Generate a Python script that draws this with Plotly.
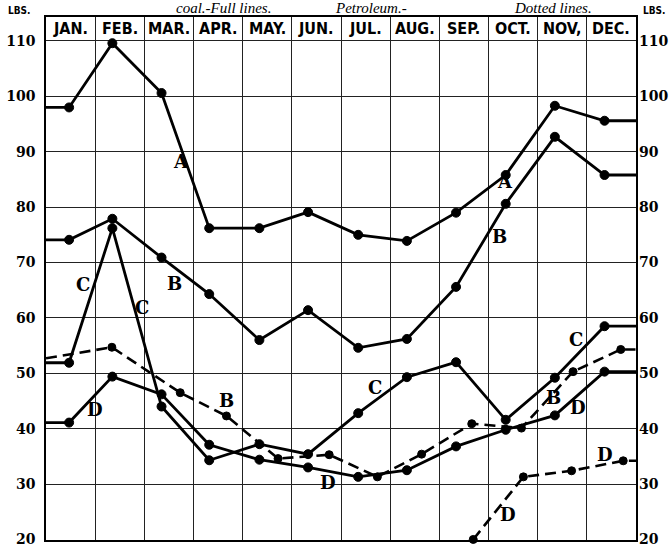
import plotly.graph_objects as go

# ---------------- data ----------------
months = ["JAN.", "FEB.", "MAR.", "APR.", "MAY.", "JUN.", "JUL.", "AUG.", "SEP.", "OCT.", "NOV,", "DEC."]
y_ticks = [20, 30, 40, 50, 60, 70, 80, 90, 100, 110]

# coal (full lines): sampling position within the year (month units) and lbs
coal_x = [0.47, 1.35, 2.35, 3.32, 4.34, 5.33, 6.35, 7.34, 8.34, 9.35, 10.35, 11.36]
coal_A = [98.0, 109.6, 100.6, 76.2, 76.2, 79.1, 75.0, 73.9, 79.0, 85.8, 98.3, 95.6]
coal_B = [74.1, 77.9, 70.9, 64.3, 56.0, 61.4, 54.6, 56.2, 65.6, 80.6, 92.7, 85.8]
coal_C = [51.9, 76.2, 44.0, 34.3, 37.2, 35.4, 42.8, 49.3, 52.0, 41.6, 49.2, 58.5]
coal_D = [41.1, 49.4, 46.2, 37.1, 34.4, 33.0, 31.3, 32.5, 36.8, 39.8, 42.4, 50.3]

# petroleum (dotted lines)
pet_B_start = 52.7
pet_B_x = [1.34, 2.73, 3.67, 4.72, 5.76, 6.74, 7.64, 8.66, 9.67, 10.72, 11.69]
pet_B = [54.7, 46.5, 42.3, 34.6, 35.3, 31.3, 35.4, 40.9, 40.1, 50.3, 54.3]
pet_D_x = [8.69, 9.71, 10.69, 11.74]
pet_D = [20.0, 31.3, 32.4, 34.2]

# curve letters (text, x, y)
letters = [("A", 2.75, 88.2), ("A", 9.33, 84.6),
           ("B", 2.62, 66.3), ("B", 9.23, 74.7), ("B", 3.68, 45.1), ("B", 10.32, 45.7),
           ("C", 0.76, 66.0), ("C", 1.96, 61.8), ("C", 6.69, 47.4), ("C", 10.78, 56.1),
           ("D", 1.0, 43.4), ("D", 5.74, 30.2), ("D", 10.83, 43.8), ("D", 11.37, 35.3),
           ("D", 9.40, 24.5)]

X0, X1 = 0, 12
Y_BOT = 19.9
Y_TOP = 114.33
HEADER_Y = 112.2

fig = go.Figure()

def add_series(xs, ys, dashed=False, start=None, extend_right=True, msize=9):
    px = list(xs)
    py = list(ys)
    sizes = [msize] * len(px)
    if start is not None:
        px = [X0] + px
        py = [start] + py
        sizes = [0] + sizes
    if extend_right:
        px = px + [X1]
        py = py + [ys[-1]]
        sizes = sizes + [0]
    fig.add_trace(go.Scatter(
        x=px, y=py, mode="lines+markers",
        line=dict(color="black", width=2.6 if dashed else 2.8,
                  dash="11px,6px" if dashed else "solid"),
        marker=dict(color="black", size=sizes, opacity=1, line=dict(width=1, color="black")),
        cliponaxis=False, hoverinfo="skip", showlegend=False))

for series in (coal_A, coal_B, coal_C, coal_D):
    add_series(coal_x, series, start=series[0])

add_series(pet_B_x, pet_B, dashed=True, start=pet_B_start, msize=8)
add_series(pet_D_x, pet_D, dashed=True, msize=8)

# invisible trace to bind the right-hand axis
fig.add_trace(go.Scatter(x=[X0, X1], y=[30, 30], yaxis="y2", mode="lines",
                         line=dict(width=0), opacity=0, hoverinfo="skip", showlegend=False))

tickfont = dict(family="DejaVu Serif, Liberation Serif, serif", size=14, color="black", weight="bold")

annotations = []
for i, m in enumerate(months):
    annotations.append(dict(x=i + 0.5, y=HEADER_Y, xref="x", yref="y", text=m, showarrow=False,
                            font=dict(family="DejaVu Sans Condensed, Liberation Sans Narrow, sans-serif",
                                      size=16, color="black", weight="bold"),
                            xanchor="center", yanchor="middle"))
for t, lx, ly in letters:
    annotations.append(dict(x=lx, y=ly, xref="x", yref="y", text=t, showarrow=False,
                            font=dict(family="DejaVu Serif, Liberation Serif, serif", size=18,
                                      color="black", weight="bold"),
                            xanchor="center", yanchor="middle"))
# units
for ax_x in (-0.045, 1.032):
    annotations.append(dict(x=ax_x, y=1.012, xref="paper", yref="paper", text="LBS.", showarrow=False,
                            font=dict(family="DejaVu Sans Condensed, DejaVu Sans, sans-serif", size=10,
                                      color="black", weight="bold"),
                            xanchor="center", yanchor="middle"))
# caption at top
for txt, cx in (("coal.-Full lines.", 0.30), ("Petroleum.-", 0.55), ("Dotted lines.", 0.86)):
    annotations.append(dict(x=cx, y=1.0, xref="paper", yref="paper", text=txt, showarrow=False,
                            font=dict(family="Liberation Serif, DejaVu Serif, serif", size=15,
                                      color="black", style="italic"),
                            xanchor="center", yanchor="bottom", yshift=-1))

fig.update_layout(
    width=670, height=548,
    margin=dict(l=46, r=34, t=17, b=8, autoexpand=False),
    paper_bgcolor="white", plot_bgcolor="white",
    xaxis=dict(range=[X0, X1], tick0=0, dtick=1, showticklabels=False, ticks="",
               showgrid=True, gridcolor="#222", gridwidth=1.2, zeroline=False, automargin=False,
               showline=True, linecolor="black", linewidth=1.6, mirror=True, fixedrange=True),
    yaxis=dict(range=[Y_BOT, Y_TOP], tickvals=y_ticks, ticktext=[str(v) for v in y_ticks],
               tickfont=tickfont, ticks="", ticklabelstandoff=6, ticklabeloverflow="allow",
               automargin=False,
               showgrid=True, gridcolor="#222", gridwidth=1.2, zeroline=False,
               showline=True, linecolor="black", linewidth=1.6, mirror=True, fixedrange=True),
    yaxis2=dict(range=[Y_BOT, Y_TOP], overlaying="y", side="right", tickvals=y_ticks,
                ticktext=[str(v) for v in y_ticks], tickfont=tickfont, ticks="",
                ticklabelstandoff=2, ticklabeloverflow="allow", automargin=False,
                showgrid=False, zeroline=False, showline=False, fixedrange=True),
    annotations=annotations,
)

fig.write_html("out.html", config={"displayModeBar": False},
               post_script="document.body.style.margin='0';")
